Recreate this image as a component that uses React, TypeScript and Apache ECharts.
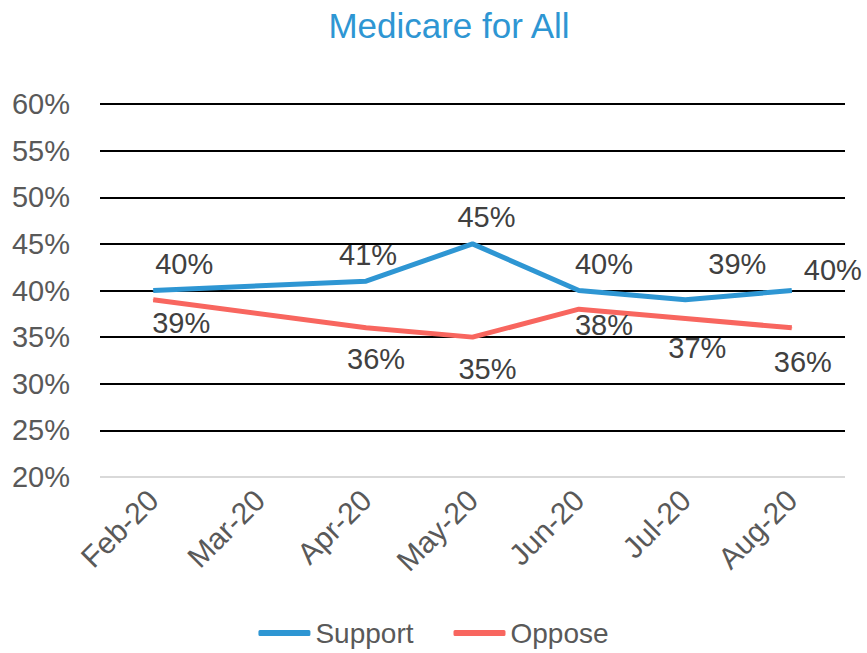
import React, { useEffect, useRef } from "react";
import * as echarts from "echarts";

const categories = ["Feb-20", "Mar-20", "Apr-20", "May-20", "Jun-20", "Jul-20", "Aug-20"];
const supportValues: (number | null)[] = [40, null, 41, 45, 40, 39, 40];
const opposeValues: (number | null)[] = [39, null, 36, 35, 38, 37, 36];
const yTicks = [20, 25, 30, 35, 40, 45, 50, 55, 60];

// label offsets (style only), relative to point centre
const supportLabelOffsets: number[][] = [[31, -27], [0, 0], [2, -26], [14, -27], [25, -27], [52, -36], [41, -21]];
const opposeLabelOffsets: number[][] = [[28, 23], [0, 0], [10, 31], [15, 32], [25, 16], [12, 30], [11, 34]];

const FONT = "Liberation Sans";

function buildData(values: (number | null)[], offsets: number[][]) {
  return values.map((v, i) => ({
    value: v,
    label: { offset: offsets[i] },
  }));
}

export default function App() {
  const ref = useRef<HTMLDivElement>(null);
  useEffect(() => {
    document.body.style.margin = "0";
    if (!ref.current) return;
    const chart = echarts.init(ref.current, undefined, { renderer: "svg" });
    const splitColors = yTicks.map((_, i) => (i === 0 ? "#D9D9D9" : "#000000"));
    const labelCommon = {
      show: true,
      position: "inside",
      fontSize: 29,
      color: "#404040",
      fontFamily: FONT,
      formatter: (p: any) => (p.value == null ? "" : p.value + "%"),
    };
    chart.setOption({
      animation: false,
      backgroundColor: "#ffffff",
      title: {
        text: "Medicare for All",
        left: 444,
        top: 3,
        textAlign: "center",
        textStyle: { color: "#2E96D3", fontSize: 35, fontWeight: "normal", fontFamily: FONT },
      },
      grid: { left: 100, right: 22, top: 104, bottom: 176, containLabel: false },
      legend: {
        bottom: 1,
        left: "center",
        icon: "roundRect",
        itemWidth: 52,
        itemHeight: 6,
        itemGap: 40,
        textStyle: { fontSize: 28, color: "#595959", fontFamily: FONT },
        data: ["Support", "Oppose"],
      },
      xAxis: {
        type: "category",
        data: categories,
        boundaryGap: true,
        axisLine: { show: false },
        axisTick: { show: false },
        axisLabel: {
          rotate: 45,
          fontSize: 30,
          color: "#595959",
          fontFamily: FONT,
          margin: 18,
          interval: 0,
        },
      },
      yAxis: {
        type: "value",
        min: 20,
        max: 60,
        interval: 5,
        axisLine: { show: false },
        axisTick: { show: false },
        axisLabel: {
          fontSize: 29,
          color: "#595959",
          fontFamily: FONT,
          margin: 30,
          formatter: (v: number) => v + "%",
        },
        splitLine: { show: true, lineStyle: { color: splitColors, width: 2 } },
      },
      series: [
        {
          name: "Support",
          type: "line",
          data: buildData(supportValues, supportLabelOffsets),
          connectNulls: true,
          symbol: "circle",
          symbolSize: 1,
          showSymbol: true,
          color: "#2E96D3",
          itemStyle: { color: "#2E96D3" },
          lineStyle: { width: 5, color: "#2E96D3" },
          label: labelCommon,
        },
        {
          name: "Oppose",
          type: "line",
          data: buildData(opposeValues, opposeLabelOffsets),
          connectNulls: true,
          symbol: "circle",
          symbolSize: 1,
          showSymbol: true,
          color: "#F8665F",
          itemStyle: { color: "#F8665F" },
          lineStyle: { width: 5, color: "#F8665F" },
          label: labelCommon,
        },
      ],
    });
    return () => chart.dispose();
  }, []);
  return <div ref={ref} style={{ width: 867, height: 653 }} />;
}
